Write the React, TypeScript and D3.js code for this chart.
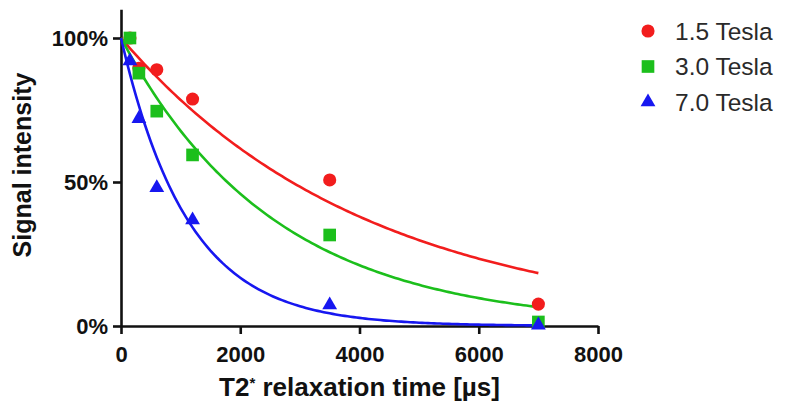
import React, { useEffect, useRef } from "react";
import * as d3 from "d3";

// Echo times (µs) at which the signal was sampled
const echoTimes = [150, 300, 600, 1200, 3500, 7000];

// Relative signal intensity (%) per field strength
const signal15T = [100, 89.5, 89, 78.8, 50.7, 7.6];
const signal30T = [100, 87.8, 74.6, 59.4, 31.6, 1.4];
const signal70T = [92, 72, 48, 36.8, 7.3, 0.3];

// Fitted mono-exponential T2* constants (µs) for each field strength
const fitT2 = [4130, 2570, 1120];

const seriesNames = ["1.5 Tesla", "3.0 Tesla", "7.0 Tesla"];
const seriesColors = ["#f21d1d", "#1cbf1c", "#1717f0"];
const xTicks = [0, 2000, 4000, 6000, 8000];
const yTicks = [0, 50, 100];

const W = 785;
const H = 412;

export default function App() {
  const ref = useRef<SVGSVGElement>(null);

  useEffect(() => {
    const svg = d3.select(ref.current);
    svg.selectAll("*").remove();

    const x = d3.scaleLinear().domain([0, 8000]).range([121, 598]);
    const y = d3.scaleLinear().domain([0, 110]).range([326, 9.2]);

    const font = "'Liberation Sans', Arial, Helvetica, sans-serif";

    // Axes
    const xAxis = svg
      .append("g")
      .attr("transform", `translate(0,${y(0)})`)
      .call(
        d3.axisBottom(x).tickValues(xTicks).tickSize(8).tickSizeOuter(0).tickPadding(12)
          .tickFormat((d) => String(d))
      );
    const yAxis = svg
      .append("g")
      .attr("transform", `translate(${x(0)},0)`)
      .call(
        d3.axisLeft(y).tickValues(yTicks).tickSize(8).tickSizeOuter(0).tickPadding(5)
          .tickFormat((d) => `${d}%`)
      );
    [xAxis, yAxis].forEach((g) => {
      g.selectAll("path, line").attr("stroke", "#111").attr("stroke-width", 2.6);
      g.selectAll("text")
        .attr("fill", "#111")
        .style("font-family", font)
        .style("font-weight", "bold")
        .style("font-size", "22px");
    });

    // Fitted decay curves
    const curveX = d3.range(0, 7001, 50);
    fitT2.forEach((T, i) => {
      const gen = d3
        .line<number>()
        .x((t) => x(t))
        .y((t) => y(100 * Math.exp(-t / T)));
      svg
        .append("path")
        .attr("d", gen(curveX))
        .attr("fill", "none")
        .attr("stroke", seriesColors[i])
        .attr("stroke-width", 2.6);
    });

    // Measured points
    const allSeries = [signal15T, signal30T, signal70T];
    const symbols = [
      d3.symbol().type(d3.symbolCircle).size(135),
      d3.symbol().type(d3.symbolSquare).size(160),
      d3.symbol().type(d3.symbolTriangle).size(95),
    ];
    allSeries.forEach((vals, i) => {
      svg
        .append("g")
        .selectAll("path")
        .data(vals)
        .join("path")
        .attr("d", symbols[i]() as string)
        .attr("transform", (v, j) => `translate(${x(echoTimes[j])},${y(v)})`)
        .attr("fill", seriesColors[i]);
    });

    // Axis titles
    const xt = svg
      .append("text")
      .attr("x", x(4000))
      .attr("y", 396)
      .attr("text-anchor", "middle")
      .attr("fill", "#111")
      .style("font-family", font)
      .style("font-weight", "bold")
      .style("font-size", "26px");
    xt.append("tspan").text("T2");
    xt.append("tspan").attr("dy", -8).style("font-size", "15px").text("*");
    xt.append("tspan").attr("dy", 8).text(" relaxation time [µs]");

    svg
      .append("text")
      .attr("transform", `translate(31,${y(50) - 17}) rotate(-90)`)
      .attr("text-anchor", "middle")
      .attr("fill", "#111")
      .style("font-family", font)
      .style("font-weight", "bold")
      .style("font-size", "25px")
      .text("Signal intensity");

    // Legend
    const legend = svg.append("g");
    seriesNames.forEach((name, i) => {
      const cy = 31 + i * 35.5;
      legend
        .append("path")
        .attr("d", symbols[i]() as string)
        .attr("transform", `translate(648,${cy})`)
        .attr("fill", seriesColors[i]);
      legend
        .append("text")
        .attr("x", 675)
        .attr("y", cy + 8.5)
        .attr("fill", "#2a2a2a")
        .style("font-family", font)
        .style("font-size", "24.5px")
        .text(name);
    });
  }, []);

  return (
    <svg
      ref={ref}
      width={W}
      height={H}
      style={{ position: "absolute", left: 0, top: 0, background: "#fff" }}
    />
  );
}
